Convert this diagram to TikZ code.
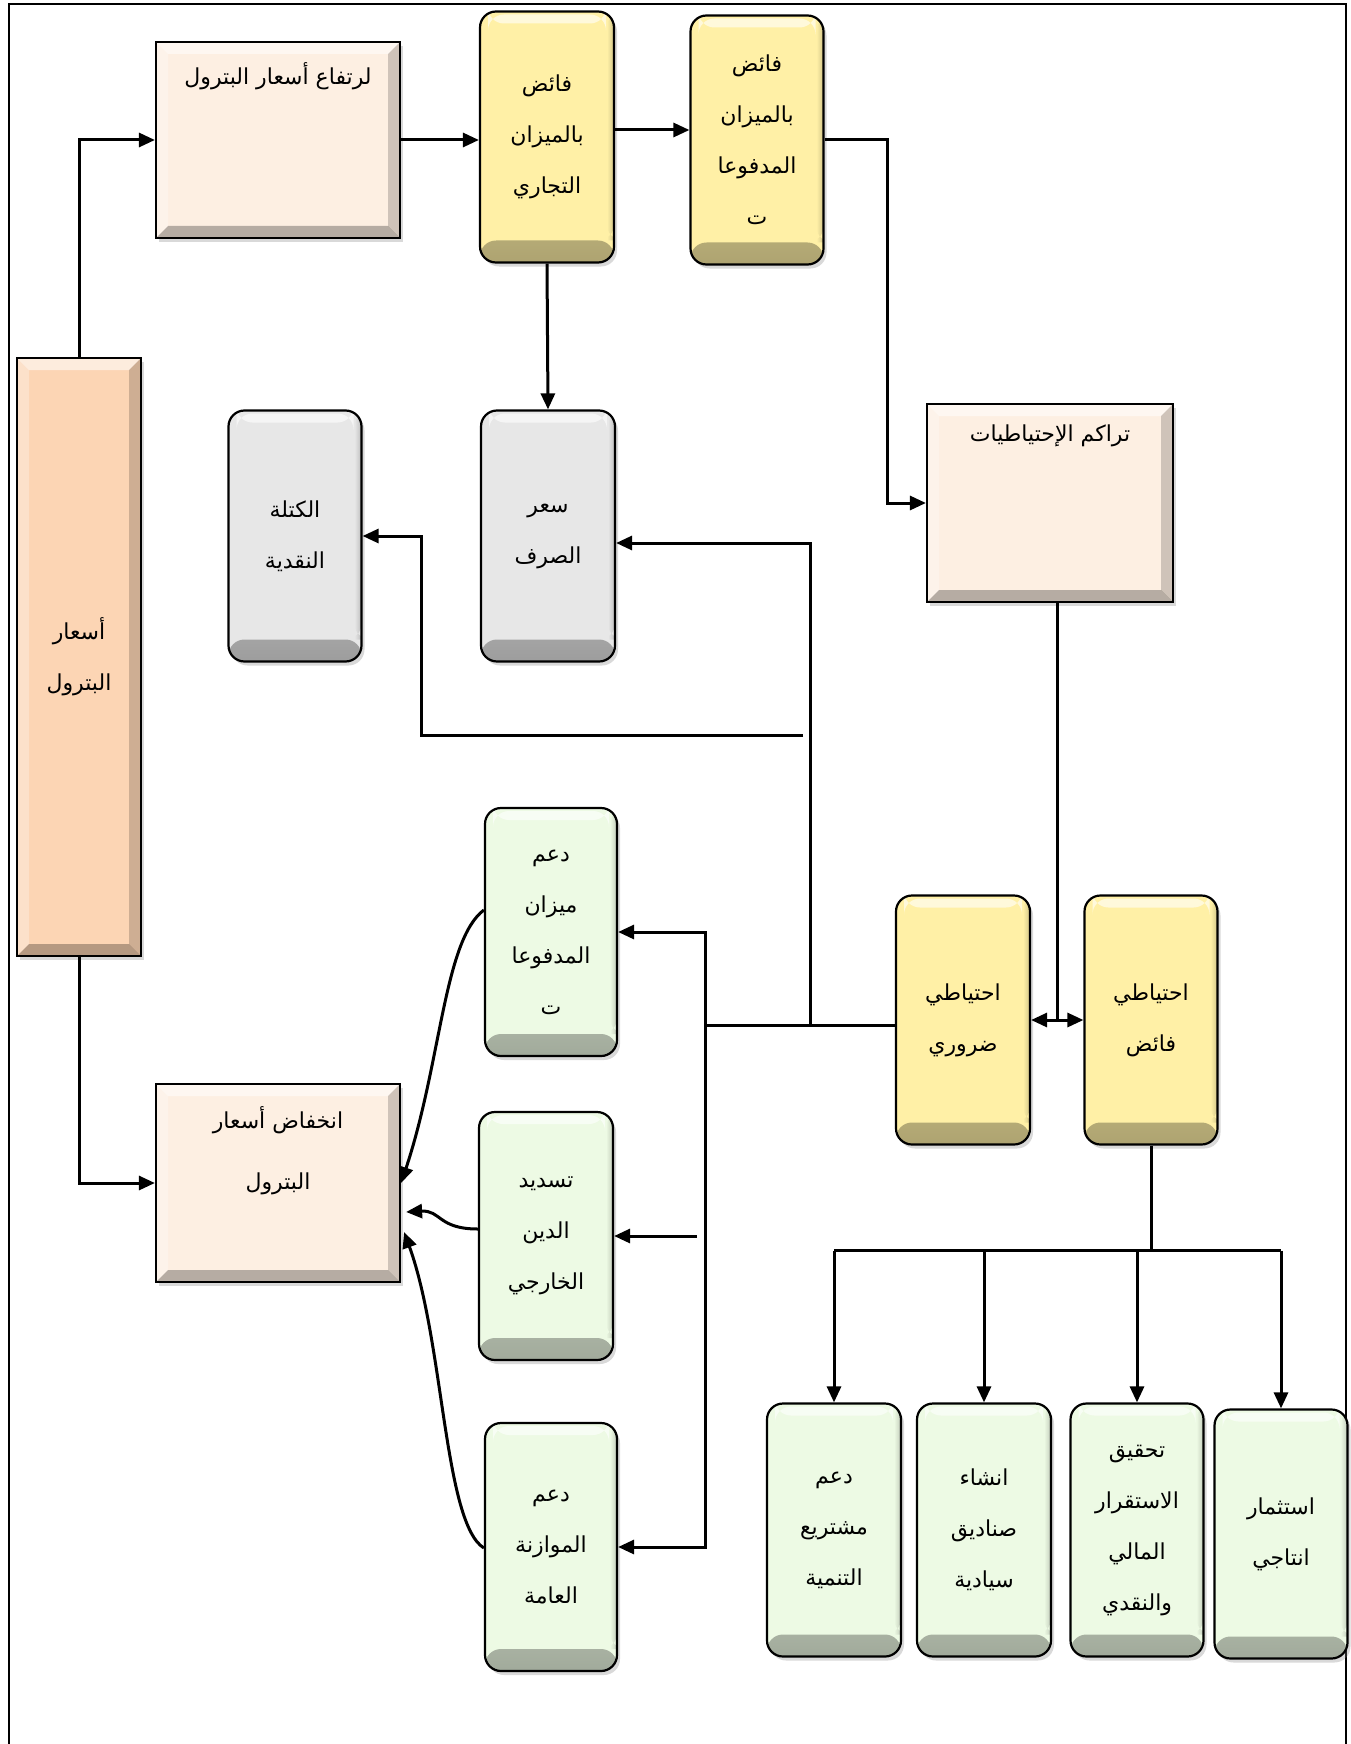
\documentclass[tikz,border=0pt]{standalone}
\usepackage{fontspec}
\newfontfamily\arabicfont[Script=Arabic]{DejaVu Sans}
\TeXXeTstate=1
\usetikzlibrary{arrows.meta,shadows,calc}

\definecolor{peachbox}{HTML}{FDEFE2}
\definecolor{tallpeach}{HTML}{FCD5B4}
\definecolor{yellowbox}{HTML}{FFF0A6}
\definecolor{greybox}{HTML}{E7E7E7}
\definecolor{greenbox}{HTML}{EDFAE4}

\tikzset{
  txt/.style={font=\arabicfont\fontsize{22}{51}\selectfont, align=center},
  basebox/.style={draw=black, line width=2.2pt, inner sep=0pt, txt,
    drop shadow={opacity=.3, shadow xshift=3pt, shadow yshift=-4pt}},
  bevelbox/.style={basebox, fill=#1, path picture={
      \path (path picture bounding box.north west) coordinate (pw)
            (path picture bounding box.south east) coordinate (pe);
      \fill[white,opacity=.55] (pw) -- (pe |- pw) -- ([shift={(-12pt,-12pt)}]pe |- pw) -- ([shift={(12pt,-12pt)}]pw) -- cycle;
      \fill[white,opacity=.3] (pw) -- ([shift={(12pt,-12pt)}]pw) -- ([shift={(12pt,12pt)}]pw |- pe) -- (pw |- pe) -- cycle;
      \fill[black,opacity=.28] (pe) -- (pw |- pe) -- ([shift={(12pt,12pt)}]pw |- pe) -- ([shift={(-12pt,12pt)}]pe) -- cycle;
      \fill[black,opacity=.18] (pe) -- ([shift={(-12pt,12pt)}]pe) -- ([shift={(-12pt,-12pt)}]pe |- pw) -- (pe |- pw) -- cycle;
    }},
  pillbox/.style={basebox, fill=#1, rounded corners=16pt, path picture={
      \shade[top color=#1, bottom color=#1!68!black]
        ([yshift=22pt]path picture bounding box.south west) rectangle (path picture bounding box.south east);
      \shade[left color=#1, right color=#1!82!black]
        ([xshift=-7pt]path picture bounding box.north east) rectangle ([yshift=22pt]path picture bounding box.south east);
      \fill[white,opacity=.6]
        ([shift={(8pt,-3pt)}]path picture bounding box.north west) rectangle ([shift={(-8pt,-12pt)}]path picture bounding box.north east);
    }},
  link/.style={line width=3pt},
  arr/.style={link, -{Triangle[length=16pt,width=14pt]}},
  arrboth/.style={link, {Triangle[length=16pt,width=14pt]}-{Triangle[length=16pt,width=14pt]}}
}

\begin{document}
\begin{tikzpicture}[x=1pt,y=-1pt]
  \useasboundingbox (0,0) rectangle (1350,1744);
  \draw[line width=1.6pt] (9,1744) -- (9,4) -- (1346,4) -- (1346,1744);

  % boxes
  \node[bevelbox=tallpeach, minimum width=124pt, minimum height=598pt] (oil) at (79,657)
    {\beginR أسعار\endR\\\beginR البترول\endR};
  \node[bevelbox=peachbox, minimum width=244pt, minimum height=196pt,
    label={[txt,anchor=north,yshift=-18pt]north:\beginR لرتفاع أسعار البترول\endR}] (rise) at (278,140) {};
  \node[bevelbox=peachbox, minimum width=244pt, minimum height=198pt,
    label={[txt,anchor=north,yshift=-20pt]north:\beginR انخفاض أسعار\endR\\[10pt]\beginR البترول\endR}] (fall) at (278,1183) {};
  \node[bevelbox=peachbox, minimum width=246pt, minimum height=198pt,
    label={[txt,anchor=north,yshift=-18pt]north:\beginR تراكم الإحتياطيات\endR}] (reserves) at (1050,503) {};

  \node[pillbox=yellowbox, minimum width=134pt, minimum height=251pt] (surtr) at (547,137)
    {\beginR فائض\endR\\\beginR بالميزان\endR\\\beginR التجاري\endR};
  \node[pillbox=yellowbox, minimum width=133pt, minimum height=249pt] (surpay) at (757,140)
    {\beginR فائض\endR\\\beginR بالميزان\endR\\\beginR المدفوعا\endR\\\beginR ت\endR};
  \node[pillbox=yellowbox, minimum width=134pt, minimum height=249pt] (needres) at (963,1020)
    {\beginR احتياطي\endR\\\beginR ضروري\endR};
  \node[pillbox=yellowbox, minimum width=133pt, minimum height=249pt] (excres) at (1151,1020)
    {\beginR احتياطي\endR\\\beginR فائض\endR};

  \node[pillbox=greybox, minimum width=133pt, minimum height=251pt] (money) at (295,536)
    {\beginR الكتلة\endR\\\beginR النقدية\endR};
  \node[pillbox=greybox, minimum width=134pt, minimum height=251pt] (exrate) at (548,536)
    {\beginR سعر\endR\\\beginR الصرف\endR};

  \node[pillbox=greenbox, minimum width=132pt, minimum height=248pt] (bop) at (551,932)
    {\beginR دعم\endR\\\beginR ميزان\endR\\\beginR المدفوعا\endR\\\beginR ت\endR};
  \node[pillbox=greenbox, minimum width=134pt, minimum height=248pt] (debt) at (546,1236)
    {\beginR تسديد\endR\\\beginR الدين\endR\\\beginR الخارجي\endR};
  \node[pillbox=greenbox, minimum width=132pt, minimum height=248pt] (budget) at (551,1547)
    {\beginR دعم\endR\\\beginR الموازنة\endR\\\beginR العامة\endR};

  \node[pillbox=greenbox, minimum width=134pt, minimum height=253pt] (dev) at (834,1530)
    {\beginR دعم\endR\\\beginR مشتريع\endR\\\beginR التنمية\endR};
  \node[pillbox=greenbox, minimum width=134pt, minimum height=253pt] (funds) at (984,1530)
    {\beginR انشاء\endR\\\beginR صناديق\endR\\\beginR سيادية\endR};
  \node[pillbox=greenbox, minimum width=133pt, minimum height=253pt] (stab) at (1137,1530)
    {\beginR تحقيق\endR\\\beginR الاستقرار\endR\\\beginR المالي\endR\\\beginR والنقدي\endR};
  \node[pillbox=greenbox, minimum width=133pt, minimum height=249pt] (invest) at (1281,1534)
    {\beginR استثمار\endR\\\beginR انتاجي\endR};

  % upper flow
  \draw[arr] (oil.north) |- (rise.west);
  \draw[arr] (oil.south) |- (fall.west);
  \draw[arr] (rise.east) -- (rise.east -| surtr.west);
  \draw[arr] ([yshift=7pt]surtr.east) -- ([yshift=7pt]surtr.east -| surpay.west);
  \draw[arr] (surpay.east) -- ++(63,0) |- (reserves.west);
  \draw[arr] (surtr.south) -- (exrate.north);

  % reserves split
  \draw[arrboth] (needres.east) -- (excres.west);
  \coordinate (split) at ($(needres.east)!.5!(excres.west)$);
  \draw[link] (reserves.south -| split) -- (split);

  % left bus
  \coordinate (lbus) at (705,1025);
  \coordinate (vbus) at (810,1025);
  \coordinate (mtap) at (803,735);
  \draw[link] ([yshift=-5pt]needres.west) -- (lbus);
  \draw[arr] (lbus) |- (bop.east);
  \draw[arr] (lbus) |- (budget.east);
  \draw[arr] ([xshift=-8pt]lbus |- debt.east) -- (debt.east);
  \draw[arr] (vbus) |- ([yshift=-7pt]exrate.east);
  \draw[arr] (mtap) -| ([xshift=59pt]money.east) -- (money.east);

  % curves into the fall box
  \draw[arr] ([yshift=22pt]bop.west) .. controls +(-40,30) and +(40,-120) .. (fall.east);
  \draw[arr] ([yshift=7pt]debt.west) .. controls +(-40,0) and +(35,-2) .. ([xshift=5pt,yshift=-29pt]fall.east);
  \draw[arr] ([yshift=-1pt]budget.west) .. controls +(-40,-25) and +(40,110) .. ([xshift=3pt,yshift=-49pt]fall.east);

  % bottom fan
  \draw[link] (excres.south) -- ++(0,105) coordinate (rbus);
  \draw[link] (dev.north |- rbus) -- (invest.north |- rbus);
  \foreach \b in {dev,funds,stab,invest}
    \draw[arr] (\b.north |- rbus) -- (\b.north);
\end{tikzpicture}
\end{document}
